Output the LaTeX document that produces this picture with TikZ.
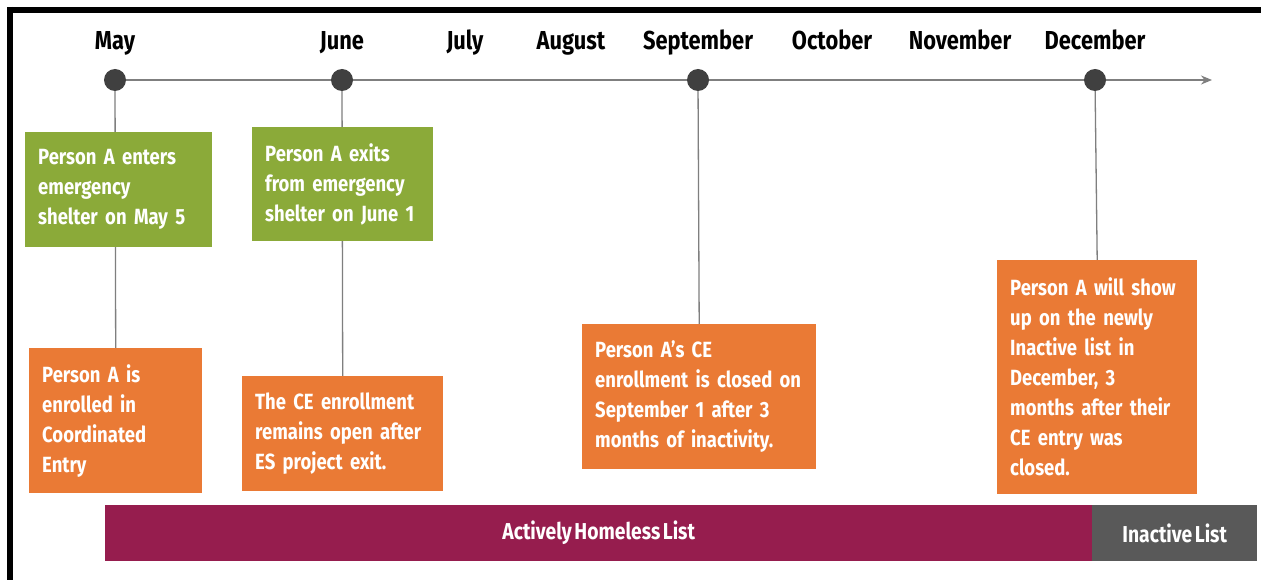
\documentclass[tikz,border=0pt]{standalone}
\usepackage{fontspec}
\setmainfont{Fira Sans}[FakeStretch=0.84, WordSpace=0.55]
\usepackage{xcolor}
\usetikzlibrary{arrows.meta}
\definecolor{shelter_green}{HTML}{8BAA39}
\definecolor{ce_orange}{HTML}{EA7A35}
\definecolor{active_red}{HTML}{961D4E}
\definecolor{inactive_gray}{HTML}{595959}
\definecolor{dot_gray}{HTML}{404040}
\definecolor{line_gray}{HTML}{7F7F7F}
\pgfdeclarelayer{paper}
\pgfdeclarelayer{lines}
\pgfsetlayers{paper,lines,main}
\tikzset{
    box_node/.style = {align=left, inner xsep=13pt, inner ysep=0pt, anchor=north west, text=white, font=\bfseries\fontsize{22}{30}\selectfont},
    green_box/.style = {box_node, fill=shelter_green},
    orange_box/.style = {box_node, fill=ce_orange},
    month/.style = {anchor=base, font=\bfseries\fontsize{26}{30}\selectfont},
    dot/.style = {circle, fill=dot_gray, inner sep=0pt, minimum size=22pt},
    link/.style = {draw=line_gray, line width=1.3pt},
    timeline/.style = {draw=line_gray, line width=1.5pt, -{Stealth[length=11pt, width=9pt]}},
    list_bar/.style = {anchor=north west, inner sep=0pt, text=white, minimum height=56pt, font=\bfseries\fontsize{23}{28}\selectfont}
}

\begin{document}
\begin{tikzpicture}[x=1pt, y=-1pt]
\useasboundingbox (0,0) rectangle (1261,580);
\begin{pgfonlayer}{paper}
    \fill[white] (0,0) rectangle (1261,580);
    \draw[line width=6pt] (7,9.7) -- (1261,9.7);
    \draw[line width=6pt] (10,7) -- (10,580);
\end{pgfonlayer}

\node [month] (may) at (115,50) {May};
\node [month] (june) at (342,50) {June};
\node [month] (july) at (465,50) {July};
\node [month] (august) at (571,50) {August};
\node [month] (september) at (698,50) {September};
\node [month] (october) at (832,50) {October};
\node [month] (november) at (960,50) {November};
\node [month] (december) at (1095,50) {December};

\node [dot] (may_dot) at (115,80) {};
\node [dot] (june_dot) at (342,80) {};
\node [dot] (sep_dot) at (698,80) {};
\node [dot] (dec_dot) at (1095,80) {};
\coordinate (axis_end) at (1212,80);

\node [green_box, text width=161pt, minimum height=115pt] (enter_es) at (25,132)
    {Person A enters\\emergency\\shelter on May 5};
\node [green_box, text width=155pt, minimum height=114pt] (exit_es) at (252,127)
    {Person A exits\\from emergency\\shelter on June 1};
\node [orange_box, text width=147pt, minimum height=145pt] (may_ce) at (29,348)
    {Person A is\\enrolled in\\Coordinated\\Entry};
\node [orange_box, text width=175pt, minimum height=115pt] (june_ce) at (242,376)
    {The CE enrollment\\remains open after\\ES project exit.};
\node [orange_box, text width=208pt, minimum height=145pt] (sep_ce) at (582,324)
    {Person A’s CE\\enrollment is closed on\\September 1 after 3\\months of inactivity.};
\node [orange_box, text width=174pt, minimum height=234pt] (dec_ce) at (997,260)
    {Person A will show\\up on the newly\\Inactive list in\\December, 3\\months after their\\CE entry was\\closed.};

\node [list_bar, fill=active_red, minimum width=987pt] (active_list) at (105,505) {Actively Homeless List};
\node [list_bar, fill=inactive_gray, minimum width=165pt] (inactive_list) at (1092,505) {Inactive List};

\begin{pgfonlayer}{lines}
    \draw [timeline] (may_dot.center) -- (axis_end);
    \draw [link] (may_dot.center) -- (may_ce.north);
    \draw [link] (june_dot.center) -- (june_ce.north);
    \draw [link] (sep_dot.center) -- (sep_ce.north);
    \draw [link] (dec_dot.center) -- (dec_ce.north);
\end{pgfonlayer}
\end{tikzpicture}
\end{document}
